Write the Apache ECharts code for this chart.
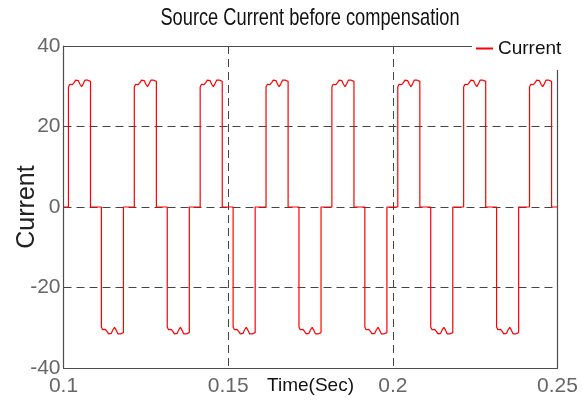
<!DOCTYPE html>
<html>
<head>
<meta charset="utf-8">
<script src="https://cdn.jsdelivr.net/npm/echarts@6/dist/echarts.min.js"></script>
<style>
  html, body { margin: 0; padding: 0; background: #fff; }
  #chart { width: 583px; height: 401px; }
</style>
</head>
<body>
<div id="chart"></div>
<script>
// edges of the six-step source current (seconds)
const posStarts = [0.1015, 0.1215, 0.1415, 0.1615, 0.1815, 0.2015, 0.2215, 0.2415];
const negStarts = [0.1115, 0.1315, 0.1515, 0.1715, 0.1915, 0.2115, 0.2315];
const pulseWidth = 0.0067;
// ripple on the flat top of each pulse: offset from the edge (s) and level (A)
const rippleOffsets = [0, 0.0004, 0.0008, 0.0012, 0.0017, 0.0022, 0.0026, 0.0030, 0.0035, 0.0040, 0.0045, 0.0050, 0.0054, 0.0059, 0.0064, 0.0067];
const rippleLevels  = [29.8, 30.5, 30.4, 30.4, 30.9, 31.5, 31.7, 31.4, 30.5, 29.9, 30.6, 31.5, 31.7, 31.5, 31.2, 31.2];
const xTicks = [0.1, 0.15, 0.2, 0.25];
const yTicks = [-40, -20, 0, 20, 40];

const sans = "'Liberation Sans', Arial, sans-serif";

// build the trace from the edges and the plateau shape
const pulses = posStarts.map(t => [t, 1]).concat(negStarts.map(t => [t, -1]));
pulses.sort((a, b) => a[0] - b[0]);
const trace = [[xTicks[0], 0]];
pulses.forEach(([t0, sign]) => {
  trace.push([t0, 0]);
  rippleOffsets.forEach((dt, i) => trace.push([t0 + dt, sign * rippleLevels[i]]));
  trace.push([t0 + pulseWidth, 0]);
});
trace.push([xTicks[xTicks.length - 1], 0]);

const chart = echarts.init(document.getElementById('chart'));
const axisColor = '#4d4d4d';
const gridLine = { show: true, lineStyle: { color: '#444', type: [8, 5], width: 1 } };
const fmt = v => String(+v.toFixed(2));

chart.setOption({
  animation: false,
  backgroundColor: '#fff',
  // narrow title: Liberation Sans squeezed horizontally, like Arial Narrow
  graphic: [{
    type: 'text', x: 310, y: 18, scaleX: 0.76, originX: 0, z: 10,
    style: {
      text: 'Source Current before compensation',
      font: "24px 'Liberation Sans', Arial, sans-serif",
      fill: '#111', align: 'center', verticalAlign: 'middle'
    }
  }],
  legend: {
    data: ['Current'],
    left: 472, top: 30,
    padding: [9, 30, 12, 4],
    backgroundColor: '#fff',
    itemWidth: 17, itemHeight: 2,
    icon: 'rect',
    textStyle: { fontFamily: sans, fontSize: 19, color: '#111' }
  },
  grid: { left: 63.5, right: 25.5, top: 46, bottom: 33, containLabel: false, outerBoundsMode: 'none' },
  xAxis: [{
    type: 'value', min: xTicks[0], max: xTicks[xTicks.length - 1], interval: 0.05,
    name: 'Time(Sec)', nameLocation: 'middle', nameGap: 8, nameMoveOverlap: false,
    nameTextStyle: { fontFamily: sans, fontSize: 19, color: '#111', verticalAlign: 'top' },
    axisLine: { show: true, onZero: false, lineStyle: { color: axisColor, width: 1.2 } },
    axisTick: { show: false },
    axisLabel: { formatter: fmt, fontFamily: sans, fontSize: 21, color: '#666', margin: 8 },
    splitLine: gridLine
  }, {
    type: 'value', position: 'top', min: xTicks[0], max: xTicks[xTicks.length - 1],
    axisLine: { show: true, onZero: false, lineStyle: { color: axisColor, width: 1.2 } },
    axisTick: { show: false }, axisLabel: { show: false }, splitLine: { show: false }
  }],
  yAxis: [{
    type: 'value', min: yTicks[0], max: yTicks[yTicks.length - 1], interval: 20,
    name: 'Current', nameLocation: 'middle', nameGap: 24, nameRotate: 90, nameMoveOverlap: false,
    nameTextStyle: { fontFamily: sans, fontSize: 25, color: '#222' },
    axisLine: { show: true, onZero: false, lineStyle: { color: axisColor, width: 1.2 } },
    axisTick: { show: false },
    axisLabel: { fontFamily: sans, fontSize: 21, color: '#666', margin: 3 },
    splitLine: gridLine
  }, {
    type: 'value', position: 'right', min: yTicks[0], max: yTicks[yTicks.length - 1],
    axisLine: { show: true, onZero: false, lineStyle: { color: axisColor, width: 1.2 } },
    axisTick: { show: false }, axisLabel: { show: false }, splitLine: { show: false }
  }],
  series: [{
    name: 'Current',
    type: 'line',
    data: trace,
    showSymbol: false,
    symbol: 'none',
    lineStyle: { color: '#ff0000', width: 1.2 },
    itemStyle: { color: '#ff0000' }
  }]
});
</script>
</body>
</html>
